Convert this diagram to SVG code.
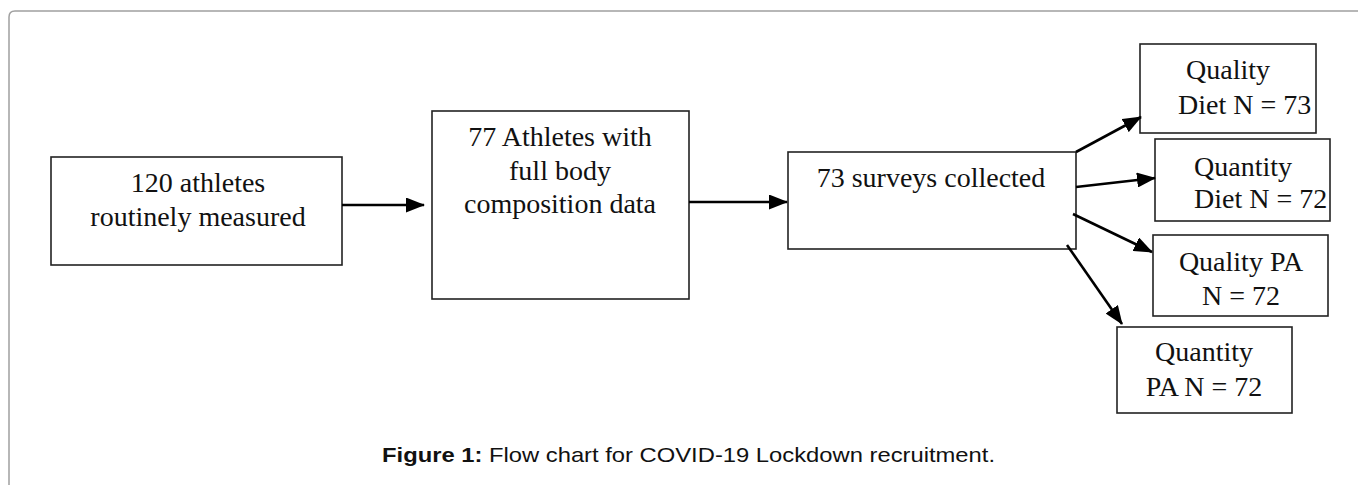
<svg xmlns="http://www.w3.org/2000/svg" width="1358" height="485" viewBox="0 0 1358 485">
<defs>
<style>
.box{fill:#fff;stroke:#222;stroke-width:1.6}
.t{font-family:"Liberation Serif","Times New Roman",serif;font-size:28px;fill:#111}
.c{text-anchor:middle}
.conn{stroke:#000;stroke-width:2.6;fill:none}
.cap{font-family:"Liberation Sans",Arial,sans-serif;font-size:21px;fill:#111}
</style>
<marker id="ah" markerUnits="userSpaceOnUse" markerWidth="19" markerHeight="15" refX="18" refY="7.5" orient="auto">
<path d="M0,0 L19,7.5 L0,15 z" fill="#000"/>
</marker>
</defs>
<rect width="1358" height="485" fill="#fff"/>
<path d="M9,485 L9,17 Q9,11 15,11 L1358,11" fill="none" stroke="#a0a0a0" stroke-width="1.5"/>
<g id="node1">
<rect class="box" x="51" y="157" width="291" height="108"/>
<text class="t c" x="198" y="192">120 athletes</text>
<text class="t c" x="198" y="226">routinely measured</text>
</g>
<g id="node2">
<rect class="box" x="432" y="111" width="257" height="188"/>
<text class="t c" x="560" y="146">77 Athletes with</text>
<text class="t c" x="560" y="180">full body</text>
<text class="t c" x="560" y="213">composition data</text>
</g>
<g id="node3">
<rect class="box" x="788" y="152" width="288" height="97"/>
<text class="t c" x="931" y="187">73 surveys collected</text>
</g>
<g id="node4">
<rect class="box" x="1140" y="44" width="176" height="89"/>
<text class="t" x="1186" y="79">Quality</text>
<text class="t" x="1178" y="114">Diet N = 73</text>
</g>
<g id="node5">
<rect class="box" x="1155" y="139" width="175" height="82"/>
<text class="t" x="1194" y="176">Quantity</text>
<text class="t" x="1194" y="208">Diet N = 72</text>
</g>
<g id="node6">
<rect class="box" x="1153" y="235" width="175" height="81"/>
<text class="t c" x="1241" y="271">Quality PA</text>
<text class="t c" x="1241" y="305">N = 72</text>
</g>
<g id="node7">
<rect class="box" x="1117" y="327" width="175" height="86"/>
<text class="t c" x="1204" y="361">Quantity</text>
<text class="t c" x="1204" y="396">PA N = 72</text>
</g>
<g id="connectors">
<line class="conn" x1="342" y1="205" x2="424" y2="205" marker-end="url(#ah)"/>
<line class="conn" x1="689" y1="202" x2="787" y2="202" marker-end="url(#ah)"/>
<line class="conn" x1="1076" y1="152" x2="1141" y2="117" marker-end="url(#ah)"/>
<line class="conn" x1="1076" y1="187" x2="1155" y2="178" marker-end="url(#ah)"/>
<line class="conn" x1="1073" y1="214" x2="1152" y2="252" marker-end="url(#ah)"/>
<line class="conn" x1="1067" y1="245" x2="1122" y2="324" marker-end="url(#ah)"/>
</g>
<text class="cap" x="382" y="462" textLength="613" lengthAdjust="spacingAndGlyphs"><tspan font-weight="bold">Figure 1:</tspan> Flow chart for COVID-19 Lockdown recruitment.</text>
</svg>
